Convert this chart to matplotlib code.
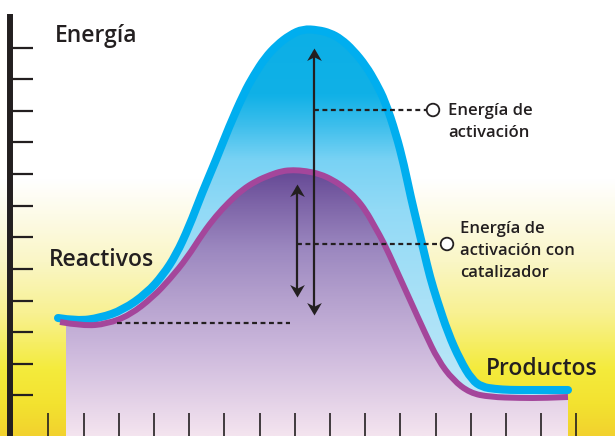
import numpy as np
import matplotlib
matplotlib.use('Agg')
import matplotlib.pyplot as plt
from matplotlib.colors import LinearSegmentedColormap
from matplotlib.patches import PathPatch, Circle
from matplotlib.path import Path

# energy profile without catalyst (blue) - reaction coordinate vs energy
x_uncat = [58, 77, 100, 123, 147, 163, 176, 189, 202, 216, 229, 244, 254, 265, 277, 290, 303, 318, 330,
           341, 353, 366, 376, 385, 396, 404, 411, 418, 424, 430, 437, 448, 460, 472, 482, 495, 510,
           530, 550, 568]
e_uncat = [118, 115, 118, 126, 143, 161, 181, 209, 243, 276, 309, 343, 361, 378, 391, 401, 407, 406, 403,
           397, 386, 370, 353, 335, 302, 271, 238, 209, 184, 159, 136, 103, 76, 56, 49, 47, 46,
           46, 46, 46]

# energy profile with catalyst (purple)
x_cat = [60, 83, 107, 130, 153, 170, 187, 203, 216, 229, 242, 256, 270, 282, 293, 306, 320, 333, 345,
         356, 366, 375, 384, 395, 410, 425, 438, 453, 470, 490, 520, 545, 568]
e_cat = [114, 110, 112, 121, 139, 157, 178, 203, 220, 234, 246, 255, 261, 265, 266, 265, 262, 256, 248,
         238, 225, 209, 193, 169, 136, 103, 76, 56, 43, 39, 38, 38, 39]

axis_label = 'Energía'
reactants_label = 'Reactivos'
products_label = 'Productos'
ea_lines = ['Energía de', 'activación']
ea_cat_lines = ['Energía de', 'activación con', 'catalizador']

W, H = 615, 436
INK = '#231f20'

fig = plt.figure(figsize=(W / 100, H / 100), dpi=100)
ax = fig.add_axes([0, 0, 1, 1])
ax.set_xlim(0, W)
ax.set_ylim(0, H)
ax.axis('off')


def smooth_verts(xs, ys):
    # quadratic bezier through midpoints, read points act as control points
    p = np.column_stack([xs, ys]).astype(float)
    verts = [p[0]]
    codes = [Path.MOVETO]
    n = len(p)
    for i in range(1, n - 1):
        end = (p[i] + p[i + 1]) / 2 if i < n - 2 else p[n - 1]
        verts += [p[i], end]
        codes += [Path.CURVE3, Path.CURVE3]
    return np.array(verts), codes


def vgrad(stops, clip=None, z=0, x0=0, x1=W):
    # vertical gradient, stops given as (pixel row from top, colour)
    cmap = LinearSegmentedColormap.from_list('g', [(r / H, c) for r, c in stops])
    col = np.linspace(0, 1, 512).reshape(-1, 1)
    im = ax.imshow(col, cmap=cmap, vmin=0, vmax=1, extent=[x0, x1, 0, H], origin='upper',
                   aspect='auto', zorder=z, interpolation='bilinear')
    if clip is not None:
        im.set_clip_path(clip)
    return im


bv, bc = smooth_verts(x_uncat, e_uncat)
pv, pc = smooth_verts(x_cat, e_cat)

# background
vgrad([(0, '#ffffff'), (180, '#ffffff'), (215, '#fdfbe8'), (262, '#faf6c6'), (314, '#f8f192'),
       (370, '#f4eb3c'), (405, '#f3e230'), (436, '#f2d22e')], z=0)

# light blue band between the two curves
band_path = Path(np.vstack([bv, pv[::-1], bv[:1]]),
                 bc + [Path.LINETO] + pc[1:][::-1] + [Path.CLOSEPOLY])
band_patch = PathPatch(band_path, transform=ax.transData, facecolor='none', edgecolor='none')
vgrad([(0, '#0aaee6'), (95, '#10b1e7'), (125, '#3cbeec'), (160, '#78d2f4'), (210, '#92daf6'),
       (300, '#a9e1f7'), (436, '#c4ebf9')], clip=band_patch, z=1)

# purple area under catalysed curve (between x=66 and the right end)
area_path = Path(np.vstack([pv, [[x_cat[-1], 0], [x_cat[0], 0], pv[0]]]),
                 pc + [Path.LINETO, Path.LINETO, Path.CLOSEPOLY])
area_patch = PathPatch(area_path, transform=ax.transData, facecolor='none', edgecolor='none')
vgrad([(0, '#5e4190'), (170, '#644794'), (205, '#7e65a8'), (250, '#9c88c0'), (300, '#b5a1ce'),
       (350, '#ccb8dc'), (400, '#e3d1e7'), (436, '#f4e4ef')], clip=area_patch, z=1, x0=66, x1=568)

# curves
ax.add_patch(PathPatch(Path(bv, bc), facecolor='none', edgecolor='#00aeef', lw=5.8,
                       capstyle='round', joinstyle='round', zorder=3))
ax.add_patch(PathPatch(Path(pv, pc), facecolor='none', edgecolor='#a4469b', lw=4.3,
                       capstyle='butt', joinstyle='round', zorder=4))

# energy axis with ticks
ax.vlines(10, 0, H - 14, color=INK, lw=4.3, zorder=5)
ax.hlines(H - (47.7 + 31.6 * np.arange(12)), 12, 33, color=INK, lw=1.6, zorder=5)
ax.vlines(48.3 + 35.2 * np.arange(16), 0, H - 413, color=INK, lw=1.2, zorder=5)

# activation energy arrows with barbed heads
head_up = Path([(0, 0), (-0.5, -0.85), (0, -0.6), (0.5, -0.85), (0, 0)],
               [Path.MOVETO, Path.LINETO, Path.LINETO, Path.LINETO, Path.CLOSEPOLY])
head_down = Path([(0, 0), (-0.5, 0.85), (0, 0.6), (0.5, 0.85), (0, 0)],
                 [Path.MOVETO, Path.LINETO, Path.LINETO, Path.LINETO, Path.CLOSEPOLY])
for ax_x, e_top, e_bot in [(313.5, 388, 121), (296.5, 252, 139)]:
    ax.plot([ax_x, ax_x], [e_bot + 4, e_top - 4], color=INK, lw=1.6, zorder=6)
    ax.plot(ax_x, e_top, marker=head_up, ms=18, color=INK, mew=0, ls='none', zorder=6)
    ax.plot(ax_x, e_bot, marker=head_down, ms=18, color=INK, mew=0, ls='none', zorder=6)

# leader lines
dash = dict(color=INK, lw=1.6, ls=(0, (2.2, 1.6)), zorder=6)
ax.plot([314, 427], [326, 326], **dash)
ax.plot([297, 441], [192, 192], **dash)
ax.plot([117, 290], [113, 113], **dash)
for cx, cy in [(433, 326), (447, 192)]:
    ax.add_patch(Circle((cx, cy), 6.3, facecolor='white', edgecolor=INK, lw=1.3, zorder=7))

big = dict(family='Open Sans', weight='semibold', fontsize=16.5, color=INK, ha='left',
           va='baseline', zorder=8)
ax.text(55, 394, axis_label, **big)
ax.text(49, 170, reactants_label, **big)
ax.text(486, 61, products_label, **big)

small = dict(family='Open Sans', weight='semibold', fontsize=12, color=INK, ha='left',
             va='baseline', zorder=8)
for i, line in enumerate(ea_lines):
    ax.text(448, 321 - 22 * i, line, **small)
for i, line in enumerate(ea_cat_lines):
    ax.text(460, 203 - 22 * i, line, **small)

fig.savefig('out.png', dpi=100)
